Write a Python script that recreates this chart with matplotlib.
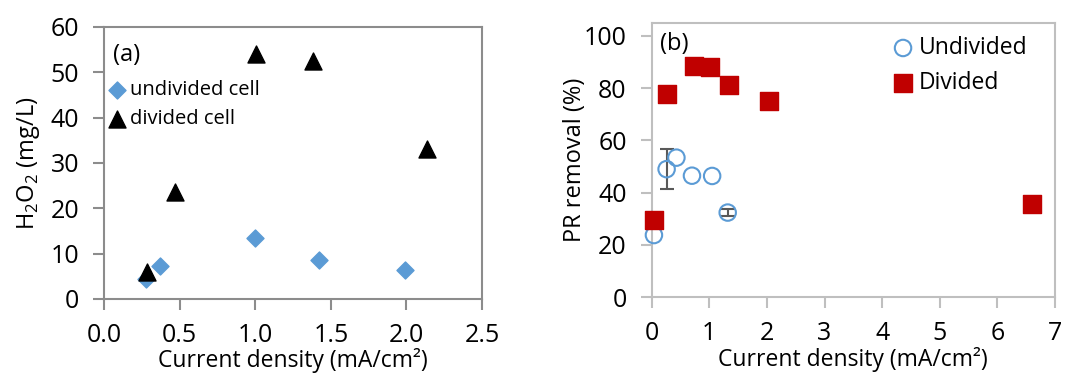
import numpy as np
import matplotlib
matplotlib.use('Agg')
import matplotlib.pyplot as plt

plt.rcParams['font.family'] = ['Open Sans', 'DejaVu Sans']

# --- panel (a): H2O2 production ---
undiv_a_x = [0.276, 0.368, 1.00, 1.424, 1.993]
undiv_a_y = [4.4, 7.3, 13.4, 8.5, 6.3]
div_a_x = [0.282, 0.47, 1.007, 1.38, 2.134]
div_a_y = [6.0, 23.7, 54.0, 52.5, 33.0]

# --- panel (b): PR removal ---
undiv_b_x = [0.04, 0.26, 0.43, 0.70, 1.05, 1.32]
undiv_b_y = [23.8, 49.0, 53.4, 46.5, 46.4, 32.4]
undiv_b_err = [0, 7.6, 0, 0, 0, 1.2]
div_b_x = [0.04, 0.27, 0.73, 1.02, 1.34, 2.04, 6.60]
div_b_y = [29.6, 77.8, 88.5, 88.1, 81.3, 75.2, 35.6]

blue = '#5B9BD5'
red = '#C00000'

fig = plt.figure(figsize=(10.7, 3.76), dpi=100)
ax1 = fig.add_axes([0.0972, 0.2048, 0.3533, 0.7234])
ax2 = fig.add_axes([0.609, 0.2093, 0.377, 0.7303])


def style(ax, spine_col):
    for s in ax.spines.values():
        s.set_color(spine_col)
        s.set_linewidth(1.5)
    ax.tick_params(direction='out', length=8, width=1.5, color=spine_col,
                   labelsize=18)
    ax.tick_params(axis='x', pad=9)
    ax.tick_params(axis='y', pad=10)


# (a)
ax1.scatter(undiv_a_x, undiv_a_y, marker='D', s=75, color=blue,
            label='undivided cell', zorder=3, clip_on=False)
ax1.scatter(div_a_x, div_a_y, marker='^', s=150, color='black',
            label='divided cell', zorder=3, clip_on=False)
ax1.set_xlim(0, 2.5)
ax1.set_ylim(0, 60)
ax1.set_xticks(np.arange(0, 2.51, 0.5))
ax1.set_xticklabels(['%.1f' % v for v in np.arange(0, 2.51, 0.5)])
ax1.set_yticks(np.arange(0, 61, 10))
ax1.set_xlabel('Current density (mA/cm²)', fontsize=16.5, labelpad=0.5)
ax1.set_ylabel(r'H$_\mathregular{2}$O$_\mathregular{2}$ (mg/L)',
               fontsize=17, labelpad=6)
ax1.text(0.025, 0.94, '(a)', transform=ax1.transAxes, fontsize=17,
         va='top', ha='left')
ax1.legend(loc='upper left', bbox_to_anchor=(-0.02, 0.835), frameon=False,
           fontsize=14.5, handletextpad=0.05, handlelength=1.2,
           labelspacing=0.45, borderaxespad=0)
style(ax1, '#8c8c8c')

# (b) error bars only where a value exists
err_idx = [i for i, e in enumerate(undiv_b_err) if e > 0]
ax2.errorbar([undiv_b_x[i] for i in err_idx],
             [undiv_b_y[i] for i in err_idx],
             yerr=[undiv_b_err[i] for i in err_idx], fmt='none',
             ecolor='#595959', elinewidth=1.5, capsize=5, capthick=1.5,
             zorder=2)
ax2.scatter(undiv_b_x, undiv_b_y, marker='o', s=140, facecolor='none',
            edgecolor=blue, linewidth=1.5, label='Undivided', zorder=3,
            clip_on=False)
ax2.scatter(div_b_x, div_b_y, marker='s', s=170, color=red,
            label='Divided', zorder=4, clip_on=False)
ax2.set_xlim(0, 7)
ax2.set_ylim(0, 105)
ax2.set_xticks(range(0, 8))
ax2.set_yticks(range(0, 101, 20))
ax2.set_xlabel('Current density (mA/cm²)', fontsize=16.5, labelpad=0.5)
ax2.set_ylabel('PR removal (%)', fontsize=17, labelpad=-2)
ax2.text(0.02, 0.965, '(b)', transform=ax2.transAxes, fontsize=17,
         va='top', ha='left')
ax2.legend(loc='upper right', bbox_to_anchor=(0.955, 0.985), frameon=False,
           fontsize=16.5, handletextpad=0.2, handlelength=1.0,
           labelspacing=0.5, borderaxespad=0)
style(ax2, '#bfbfbf')

fig.savefig('out.png', dpi=100)
